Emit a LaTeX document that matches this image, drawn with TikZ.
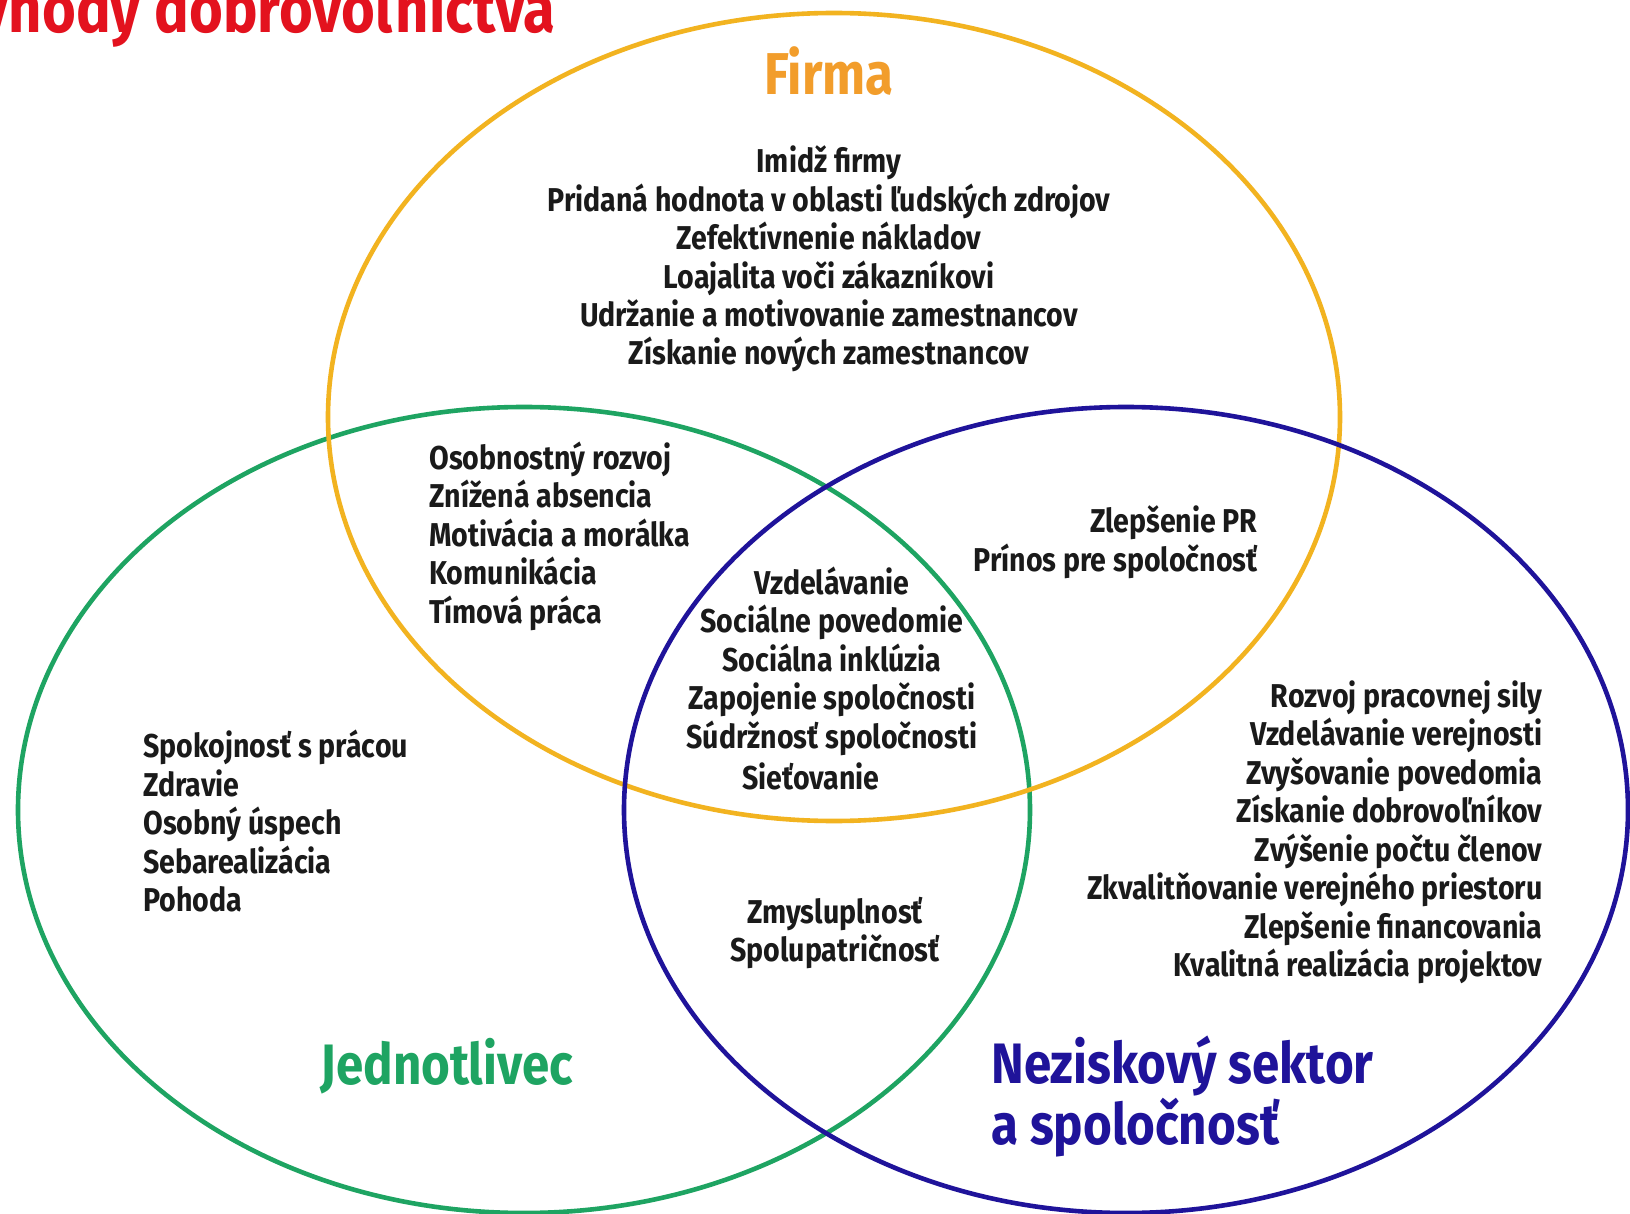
\documentclass[tikz,border=0pt]{standalone}
\usepackage{fontspec}
\setmainfont{Fira Sans}[FakeStretch=0.865]
\definecolor{cOrange}{HTML}{F2B320}
\definecolor{cFirma}{HTML}{F29D2B}
\definecolor{cGreen}{HTML}{1EA462}
\definecolor{cBlue}{HTML}{1F139A}
\definecolor{cRed}{HTML}{E3121E}
\definecolor{cText}{HTML}{1A1A1A}
\tikzset{
  ring/.style={line width=2.3pt},
  item/.style={font=\fontsize{16.5}{19.25}\selectfont\bfseries, text=cText, inner sep=0pt},
  biglabel/.style={font=\fontsize{28.5}{28.5}\selectfont\bfseries, inner sep=0pt},
}
\begin{document}
\begin{tikzpicture}[x=0.5pt,y=-0.5pt]
\useasboundingbox (0,0) rectangle (1630,1214);
\clip (0,0) rectangle (1630,1214);
\fill[white] (0,0) rectangle (1630,1214);
% ellipses
\draw[ring, cGreen] (524,810) ellipse [x radius=253pt, y radius=201.5pt];
\draw[ring, cOrange] (834,417) ellipse [x radius=253pt, y radius=202pt];
\draw[ring, cBlue] (1126,810) ellipse [x radius=251pt, y radius=201.5pt];
% title (cut off by the top-left corner, as in the reference)
\node[font=\fontsize{33.5}{35}\selectfont\bfseries, text=cRed, inner sep=0pt, anchor=base east] (title) at (556,33) {Výhody dobrovoľníctva};
% labels
\node[biglabel, font=\fontsize{29.5}{29.5}\selectfont\bfseries, text=cFirma] (firma) at (829,71) {Firma};
\node[biglabel, text=cGreen] (jedn) at (447,1066) {Jednotlivec};
\node[biglabel, text=cBlue, align=left, anchor=west] (nezisk) at (991,1097) {Neziskový sektor\\a spoločnosť};
% text blocks
\node[item, align=center] (bfirma) at (829,259) {Imidž firmy\\Pridaná hodnota v oblasti ľudských zdrojov\\Zefektívnenie nákladov\\Loajalita voči zákazníkovi\\Udržanie a motivovanie zamestnancov\\Získanie nových zamestnancov};
\node[item, align=left, anchor=west] (bfj) at (429,536) {Osobnostný rozvoj\\Znížená absencia\\Motivácia a morálka\\Komunikácia\\Tímová práca};
\node[item, align=center] (ball) at (832,661) {Vzdelávanie\\Sociálne povedomie\\Sociálna inklúzia\\Zapojenie spoločnosti\\Súdržnosť spoločnosti};
\node[item] (bsiet) at (811,776) {Sieťovanie};
\node[item, align=right, anchor=east] (bfn) at (1258,542) {Zlepšenie PR\\Prínos pre spoločnosť};
\node[item, align=left, anchor=west] (bj) at (143,821) {Spokojnosť s prácou\\Zdravie\\Osobný úspech\\Sebarealizácia\\Pohoda};
\node[item, align=center] (bjn) at (835,933) {Zmysluplnosť\\Spolupatričnosť};
\node[item, align=right, anchor=east] (bn) at (1543,832.5) {Rozvoj pracovnej sily\\Vzdelávanie verejnosti\\Zvyšovanie povedomia\\Získanie dobrovoľníkov\\Zvýšenie počtu členov\\Zkvalitňovanie verejného priestoru\\Zlepšenie financovania\\Kvalitná realizácia projektov};
\end{tikzpicture}
\end{document}
